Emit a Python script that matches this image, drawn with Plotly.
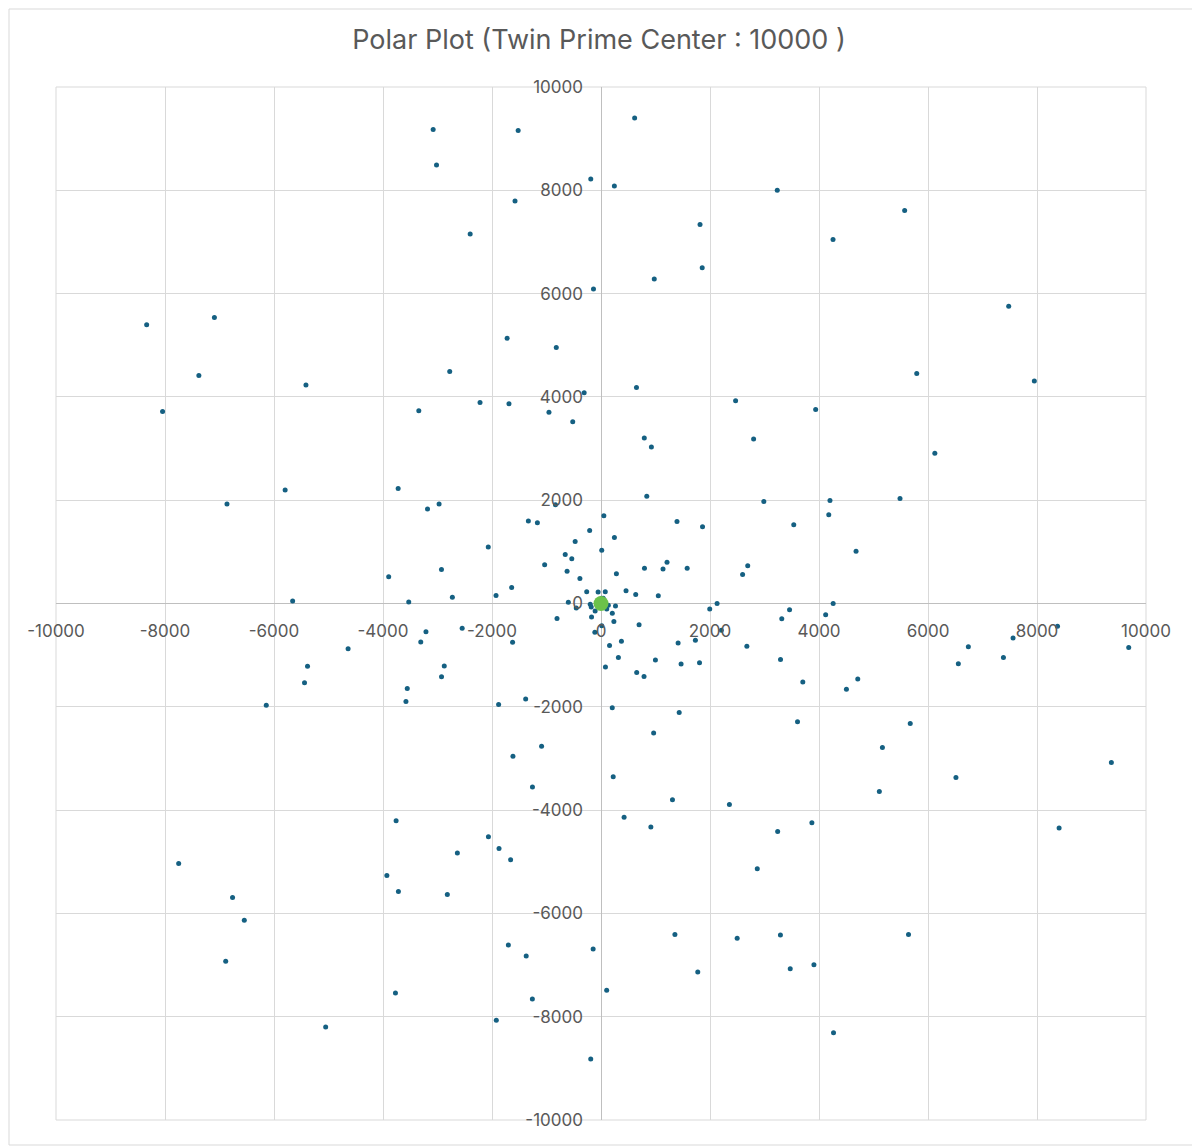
import numpy as np
import plotly.graph_objects as go

# lesser member of each twin prime pair below 10000
twin_lesser = [
    3, 5, 11, 17, 29, 41, 59, 71, 101, 107, 137, 149, 179, 191, 197, 227, 239, 269, 281, 311,
    347, 419, 431, 461, 521, 569, 599, 617, 641, 659, 809, 821, 827, 857, 881, 1019, 1031, 1049,
    1061, 1091, 1151, 1229, 1277, 1289, 1301, 1319, 1427, 1451, 1481, 1487, 1607, 1619, 1667,
    1697, 1721, 1787, 1871, 1877, 1931, 1949, 1997, 2027, 2081, 2087, 2111, 2129, 2141, 2237,
    2267, 2309, 2339, 2381, 2549, 2591, 2657, 2687, 2711, 2729, 2789, 2801, 2969, 2999, 3119,
    3167, 3251, 3257, 3299, 3329, 3359, 3371, 3389, 3461, 3467, 3527, 3539, 3557, 3581, 3671,
    3767, 3821, 3851, 3917, 3929, 4001, 4019, 4049, 4091, 4127, 4157, 4217, 4229, 4241, 4259,
    4271, 4337, 4421, 4481, 4517, 4547, 4637, 4649, 4721, 4787, 4799, 4931, 4967, 5009, 5021,
    5099, 5231, 5279, 5417, 5441, 5477, 5501, 5519, 5639, 5651, 5657, 5741, 5849, 5867, 5879,
    6089, 6131, 6197, 6269, 6299, 6359, 6449, 6551, 6569, 6659, 6689, 6701, 6761, 6779, 6791,
    6827, 6869, 6947, 6959, 7127, 7211, 7307, 7331, 7349, 7457, 7487, 7547, 7559, 7589, 7757,
    7877, 7949, 8009, 8087, 8219, 8231, 8291, 8387, 8429, 8537, 8597, 8627, 8819, 8837, 8861,
    8969, 8999, 9011, 9041, 9239, 9281, 9341, 9419, 9431, 9437, 9461, 9629, 9677, 9719, 9767,
    9857, 9929,
]

tick_vals = [-10000, -8000, -6000, -4000, -2000, 0, 2000, 4000, 6000, 8000, 10000]
tick_text = ['-10000', '-8000', '-6000', '-4000', '-2000', '0',
             '2000', '4000', '6000', '8000', '10000']
center_point = (0, 0)

# centre of each pair, plotted at angle = radius (radians)
r = np.array(twin_lesser) + 1
x = r * np.cos(r)
y = r * np.sin(r)

fig = go.Figure()
fig.add_trace(go.Scatter(x=x, y=y, mode='markers',
                         marker=dict(size=5, color='#156082'), hoverinfo='x+y'))
fig.add_trace(go.Scatter(x=[center_point[0]], y=[center_point[1]], mode='markers',
                         marker=dict(size=15, color='#6CC24A')))

axis_style = dict(range=[-10000, 10000], tickvals=tick_vals, ticktext=tick_text,
                  showgrid=True, gridcolor='#D9D9D9', gridwidth=1,
                  zeroline=True, zerolinecolor='#BFBFBF', zerolinewidth=1,
                  ticks='', anchor='free', position=0.5,
                  tickfont=dict(size=17, color='#595959', family='Inter'),
                  fixedrange=True)

fig.update_layout(
    width=1192, height=1139,
    title=dict(text='Polar Plot (Twin Prime Center : 10000 )', x=591 / 1192, xanchor='center',
               y=1 - 32 / 1139, yanchor='middle',
               font=dict(size=27, color='#595959', family='Inter')),
    margin=dict(l=48, r=54, t=79, b=27),
    plot_bgcolor='white', paper_bgcolor='white',
    showlegend=False,
    xaxis=dict(axis_style, ticklabelstandoff=15),
    yaxis=dict(axis_style, ticklabelstandoff=18),
    shapes=[
        dict(type='rect', xref='x domain', yref='y domain', x0=0, x1=1, y0=0, y1=1,
             line=dict(color='#D9D9D9', width=1), layer='below'),
        dict(type='rect', xref='paper', yref='paper', x0=-47 / 1090, x1=1 + 53 / 1090,
             y0=-25 / 1033, y1=1 + 78 / 1033, line=dict(color='#D9D9D9', width=1)),
    ],
)

fig.write_html("out.html")
